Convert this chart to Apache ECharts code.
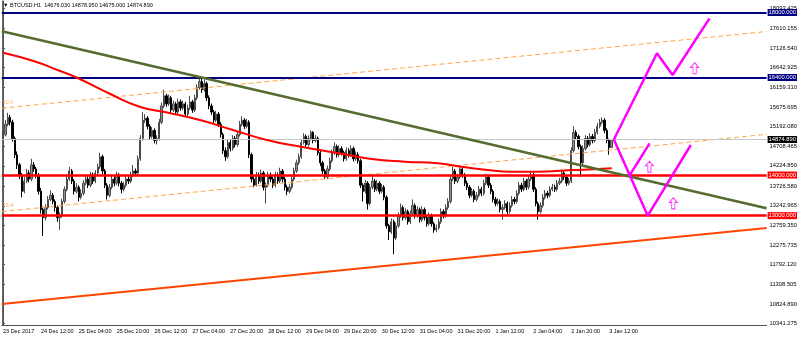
<!DOCTYPE html>
<html><head><meta charset="utf-8">
<script src="https://cdn.jsdelivr.net/npm/echarts@6/dist/echarts.min.js"></script>
<style>html,body{margin:0;padding:0;background:#fff}#c{width:800px;height:338px}</style>
</head><body><div id="c"></div>
<script>
const symbolName='BTCUSD.H1';
const tickLabels=['23 Dec 2017','24 Dec 12:00','25 Dec 04:00','25 Dec 20:00','26 Dec 12:00','27 Dec 04:00','27 Dec 20:00','28 Dec 12:00','29 Dec 04:00','29 Dec 20:00','30 Dec 12:00','31 Dec 04:00','31 Dec 20:00','1 Jan 12:00','2 Jan 04:00','2 Jan 20:00','3 Jan 12:00'];
const priceTicks=[10341.275,10824.890,11308.505,11792.120,12275.735,12759.350,13242.965,13726.580,14224.850,14708.465,15192.080,15675.695,16159.310,16642.925,17126.540,17610.155,18093.425];
const firstOpen=14900;
const closes=[
14990,15250,15420,15300,14900,14500,14250,14000,13600,13850,14050,13900,14250,14150,14000,13600,
13150,12950,13200,13400,13500,13350,13200,12950,13000,13350,13650,13900,14100,13850,13600,13700,
13450,13550,13800,13900,13750,14000,13850,14050,14200,14450,14100,13750,13500,13700,13900,13800,
14000,13800,13650,13750,13900,13850,14000,14100,14050,14400,14900,15350,15400,15200,14950,15100,
14850,14900,15300,15700,15950,15750,15900,15600,15750,15550,15800,15650,15750,15500,15650,15800,
15600,15900,16150,16300,16100,16250,15900,15700,15550,15350,15500,15250,15000,14600,14450,14800,
14650,14900,14750,15000,15250,15350,15200,15300,14500,13900,13750,14000,13850,14050,13700,13750,
14000,13900,13750,14000,13850,14100,13900,13700,13600,13700,13900,14100,14300,14450,14800,14950,
14750,14900,15050,14850,14900,14550,14300,14100,13950,14150,14350,14550,14700,14500,14650,14550,
14400,14600,14500,14650,14400,14500,14350,13750,13600,13800,13300,13700,13850,13650,13800,13600,
13700,13450,12750,12600,12850,12450,12750,13000,13200,12950,13100,12850,13050,13250,13000,13150,
12900,13150,12950,12800,13000,12800,12650,12700,12850,13100,13000,13200,13350,13900,14100,13850,
13950,14150,14000,13800,13700,13500,13600,13400,13500,13650,13550,13800,13950,13750,13600,13400,
13300,13350,13150,13200,13300,13100,13250,13400,13350,13550,13750,13650,13850,13700,13900,14000,
13650,13300,13100,13250,13450,13550,13500,13650,13700,13650,13800,13850,14050,13950,13800,13850,
14600,15050,14950,14700,14300,14650,14900,14750,14950,14850,15050,15200,15300,15350,15100,14850,
14676.03,14874.89];
const highs=[
15100,15350,15530,15480,15360,14950,14580,14300,14050,13950,14150,14120,14400,14320,14200,14050,
13680,13220,13280,13480,13620,13560,13400,13250,13080,13420,13720,13980,14200,14150,13900,13800,
13750,13650,13880,14000,13960,14080,14060,14120,14280,14550,14500,14150,13800,13780,13980,13960,
14080,14050,13850,13830,13980,13970,14080,14250,14160,14480,14980,15550,15500,15450,15250,15180,
15150,14980,15380,15780,16100,16000,15980,15950,15830,15800,15880,15860,15830,15800,15730,15950,
15850,15980,16230,16420,16380,16350,16300,15960,15760,15600,15580,15550,15300,15050,14680,14880,
14860,14980,14960,15080,15330,15450,15400,15380,15350,14550,13960,14080,14060,14130,14100,13820,
14080,14060,13960,14080,14060,14180,14150,13950,13760,13780,13980,14180,14380,14530,14880,15030,
15000,14980,15100,15080,14980,14950,14600,14350,14150,14230,14430,14630,14800,14750,14730,14710,
14600,14680,14660,14730,14700,14580,14560,14400,13800,13880,13850,13780,14000,13900,13880,13850,
13780,13750,13500,12800,12930,12900,12830,13080,13300,13250,13180,13150,13130,13400,13300,13230,
13200,13230,13200,13000,13080,13050,12850,12780,12930,13180,13160,13280,13430,13980,14200,14150,
14030,14250,14200,14050,13860,13750,13680,13650,13580,13730,13710,13880,14030,14000,13800,13650,
13460,13430,13400,13280,13380,13350,13330,13480,13460,13630,13830,13810,13930,13900,13980,14100,
14050,13700,13350,13330,13530,13630,13610,13730,13780,13760,13880,13930,14130,14110,14000,13930,
14680,15200,15110,15000,14750,14730,14980,14960,15030,15010,15130,15280,15380,15420,15400,15150,
14900,14878.95];
const lows=[
14850,14950,15200,15220,14820,14420,14150,13900,13450,13550,13800,13820,13850,14080,13920,13520,
13050,12500,12880,13150,13350,13280,13100,12850,12650,12950,13300,13600,13850,13780,13520,13550,
13350,13400,13500,13750,13680,13700,13780,13800,14000,14150,14020,13680,13400,13450,13650,13720,
13750,13720,13550,13600,13700,13780,13800,13950,13980,14000,14350,14850,15280,15120,14880,14900,
14780,14750,14850,15250,15650,15680,15700,15520,15550,15480,15500,15580,15600,15430,15450,15600,
15530,15550,15850,16100,16020,16050,15820,15620,15480,15280,15300,15180,14920,14520,14350,14400,
14580,14600,14680,14700,14950,15200,15130,15150,14420,13820,13700,13720,13780,13800,13620,13300,
13700,13830,13680,13700,13780,13800,13820,13620,13500,13550,13650,13850,14050,14250,14400,14750,
14680,14700,14850,14780,14800,14480,14220,14020,13900,13900,14100,14300,14500,14430,14450,14480,
14330,14350,14430,14450,14330,14350,14280,13680,13350,13550,13150,13250,13650,13580,13600,13530,
13550,13380,12680,12400,12550,12050,12400,12700,12950,12880,12900,12780,12800,13000,12930,12950,
12830,12850,12880,12730,12750,12730,12580,12600,12650,12800,12930,12950,13150,13300,13850,13780,
13800,13900,13930,13730,13630,13430,13450,13330,13350,13450,13480,13500,13750,13680,13530,13330,
13230,13250,13080,12900,13150,13030,13050,13200,13280,13300,13500,13580,13600,13630,13650,13850,
13580,13230,12900,13050,13200,13400,13430,13450,13600,13580,13600,13750,13800,13880,13730,13750,
13800,14550,14880,14630,13950,14250,14600,14680,14700,14780,14800,15000,15150,15250,15030,14780,
14500,14675];
const resistanceLevels=[18000,16400];
const supportLevels=[14000,13000];
const maLine=[[0,17010],[12.9,16806],[23.0,16585],[31.5,16388],[45.3,15994],[58.0,15674],[69.3,15539],[83.2,15354],[97.1,15108],[111.4,14862],[125.3,14702],[141.3,14542],[155.7,14394],[169.6,14328],[183.5,14289],[193.6,14205],[204.5,14124],[214.6,14082],[225.6,14082],[239.9,14124],[249.6,14141],[257.1,14166]];
const greenTrend=[[-0.5,17538],[322.5,13184]];
const orangeTrend=[[-0.5,10828],[322.5,12696]];
const fibUpper=[[-0.5,15645],[322.5,17532]];
const fibLower=[[-0.5,13100],[322.5,15002]];
const fibLabels=['50.0','76.4'];
const forecastA=[[258,14875],[276.2,16996],[282.8,16462],[298.4,17857]];
const forecastB=[[258,14875],[272.3,13000],[290.5,14739]];
const forecastC=[[264.7,13997],[273.1,14781]];
const arrowMarks=[[292.1,16627],[273.0,14205],[283.1,13304]];
const totalSlots=323;

const FONT='Liberation Sans, DejaVu Sans, sans-serif';
const opens=[firstOpen].concat(closes.slice(0,-1));
const candles=closes.map((c,i)=>[opens[i],c,lows[i],highs[i]]);
const cats=Array.from({length:totalSlots},(_,i)=>String(i));
const last=closes.length-1;
const titleText='\u25BC '+symbolName+'  '+[opens[last],highs[last],lows[last],closes[last]].map(v=>v.toFixed(3)).join(' ');

function levelLine(v,color,width,bg){
  return {yAxis:v,lineStyle:{color:color,width:width,type:'solid'},
    label:{show:true,position:'end',distance:1,formatter:v.toFixed(3),color:'#fff',backgroundColor:bg,padding:[1,1,0,1],fontSize:5.8,fontFamily:FONT}};
}
const mlData=[]
  .concat(resistanceLevels.map(v=>levelLine(v,'#000080',2,'#000080')))
  .concat(supportLevels.map(v=>levelLine(v,'#FF0000',2.5,'#FF0000')))
  .concat([levelLine(closes[last],'#C4C8CE',1,'#000000')]);

const chart=echarts.init(document.getElementById('c'),null,{renderer:'canvas'});
chart.setOption({
  animation:false,
  backgroundColor:'#ffffff',
  title:{text:titleText,left:3,top:2,padding:0,textStyle:{fontSize:5.5,fontWeight:'normal',color:'#000',fontFamily:FONT}},
  grid:{left:1.1,right:31.8,top:1,bottom:13,containLabel:false},
  xAxis:[
    {type:'category',data:cats,boundaryGap:true,
     axisLine:{lineStyle:{color:'#555',width:1}},
     axisTick:{interval:15,alignWithLabel:true,length:3,lineStyle:{color:'#555'}},
     axisLabel:{interval:15,align:'left',margin:3,fontSize:5.5,color:'#000',fontFamily:FONT,
       formatter:(v)=>{const i=Number(v);return i%16===0&&tickLabels[i/16]?tickLabels[i/16]:'';}},
     splitLine:{show:false}},
    {type:'value',min:-0.5,max:totalSlots-0.5,show:false}
  ],
  yAxis:[
    {type:'value',position:'right',min:10309,max:18283,scale:true,
     axisLine:{show:true,lineStyle:{color:'#555',width:1}},
     axisTick:{show:true,length:2,customValues:priceTicks,lineStyle:{color:'#555'}},
     axisLabel:{margin:3,fontSize:5.8,color:'#000',fontFamily:FONT,customValues:priceTicks,formatter:v=>v.toFixed(3)},
     splitLine:{show:false}},
    {type:'value',position:'left',min:0,max:1,
     axisLine:{show:true,lineStyle:{color:'#666',width:1}},
     axisTick:{show:false},axisLabel:{show:false},splitLine:{show:false}}
  ],
  series:[
    {type:'candlestick',xAxisIndex:0,yAxisIndex:0,z:1,data:candles,barWidth:1.8,
     itemStyle:{color:'#909090',color0:'#000000',borderColor:'#4a4a4a',borderColor0:'#000000',borderWidth:1}},
    {type:'line',xAxisIndex:1,yAxisIndex:0,z:3,data:fibUpper,showSymbol:false,
     lineStyle:{color:'#FFA548',width:1,type:[5,3]}},
    {type:'line',xAxisIndex:1,yAxisIndex:0,z:3,data:fibLower,showSymbol:false,
     lineStyle:{color:'#FFA548',width:1,type:[5,3]}},
    {type:'scatter',xAxisIndex:1,yAxisIndex:0,z:3,symbolSize:1,itemStyle:{color:'rgba(0,0,0,0)'},
     data:[[fibUpper[0][0],fibUpper[0][1],fibLabels[0]],[fibLower[0][0],fibLower[0][1],fibLabels[1]]],
     label:{show:true,position:'right',distance:0,offset:[0,-6],formatter:p=>p.data[2],color:'#F0A050',fontSize:5.8,fontFamily:FONT}},
    {type:'line',xAxisIndex:1,yAxisIndex:0,z:4,data:orangeTrend,showSymbol:false,
     lineStyle:{color:'#FF4500',width:2}},
    {type:'line',xAxisIndex:1,yAxisIndex:0,z:5,data:maLine,showSymbol:false,smooth:true,
     lineStyle:{color:'#FF0000',width:2}},
    {type:'line',xAxisIndex:1,yAxisIndex:0,z:6,data:greenTrend,showSymbol:false,
     lineStyle:{color:'#556B2F',width:2.6},
     markLine:{silent:true,symbol:['none','none'],data:mlData}},
    {type:'line',xAxisIndex:1,yAxisIndex:0,z:8,data:forecastA,showSymbol:false,lineStyle:{color:'#FF00FF',width:2.5}},
    {type:'line',xAxisIndex:1,yAxisIndex:0,z:8,data:forecastB,showSymbol:false,lineStyle:{color:'#FF00FF',width:2.5}},
    {type:'line',xAxisIndex:1,yAxisIndex:0,z:8,data:forecastC,showSymbol:false,lineStyle:{color:'#FF00FF',width:2.5}},
    {type:'scatter',xAxisIndex:1,yAxisIndex:0,z:9,data:arrowMarks,
     symbol:'path://M5,0L10,5L7,5L7,12L3,12L3,5L0,5Z',symbolSize:[8,11],
     itemStyle:{color:'#ffffff',borderColor:'#FF00FF',borderWidth:1}}
  ]
});
</script></body></html>
